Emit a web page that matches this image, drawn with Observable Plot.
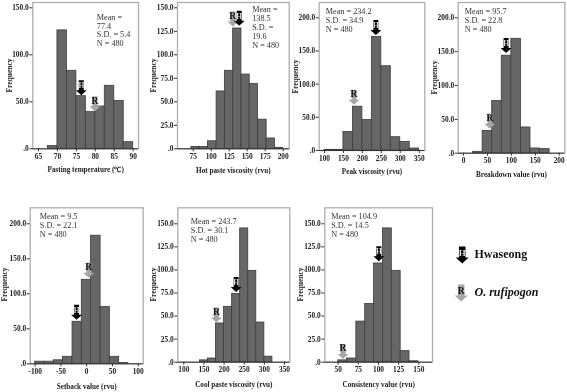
<!DOCTYPE html>
<html>
<head>
<meta charset="utf-8">
<script src="https://cdn.jsdelivr.net/npm/d3@7"></script>
<script src="https://cdn.jsdelivr.net/npm/@observablehq/plot@0.6"></script>
<style>
html,body{margin:0;padding:0;background:#fff}
#chart{position:relative;width:567px;height:392px;overflow:hidden}
#chart svg{position:absolute;background:transparent;filter:blur(0.3px)}
</style>
</head>
<body>
<div id="chart"></div>
<script>
// Values
const pastingEdges = [67.5,70,72.5,75,77.5,80,82.5,85,87.5,90];
const pastingCounts = [3,126,83,56,39,45,67,51,7];
const hotEdges = [72.5,84,95.5,107.5,119,130.5,142,153.5,165,177,188.5,200];
const hotCounts = [2,2,8,61,83,128,79,69,31,11,1];
const peakEdges = [100,125,150,175,200,225,250,275,300,325,350];
const peakCounts = [1,1,28,66,46,171,127,20,13,3];
const breakdownEdges = [20,40,60,80,100,120,140,160,180];
const breakdownCounts = [2,33,77,144,169,38,7,6];
const setbackEdges = [-100,-82,-64,-46,-27.5,-9.5,8.5,27,45,63,81];
const setbackCounts = [3,3,5,10,60,120,183,81,10,1];
const coolEdges = [140,160,180,200,220,240,260,280,300,320];
const coolCounts = [2,4,42,60,74,145,99,43,6];
const consistencyEdges = [50,61,72.5,83.5,94.5,105.5,116.5,127.5,138.5,149.5];
const consistencyCounts = [2,4,44,63,107,145,99,12,1];

const panelTitles = ["Pasting temperature (℃)","Hot paste viscosity (rvu)","Peak viscosity (rvu)","Breakdown value (rvu)","Setback value (rvu)","Cool paste viscosity (rvu)","Consistency value (rvu)"];
const panelStats = [
  ["Mean =","77.4","S.D. = 5.4","N = 480"],
  ["Mean =","138.5","S.D. =","19.6","N = 480"],
  ["Mean = 234.2","S.D. = 34.9","N = 480"],
  ["Mean = 95.7","S.D. = 22.8","N = 480"],
  ["Mean = 9.5","S.D. = 22.1","N = 480"],
  ["Mean = 243.7","S.D. = 30.1","N = 480"],
  ["Mean = 104.9","S.D. = 14.5","N = 480"]
];
const xTicks = [
  [65,70,75,80,85,90],
  [75,100,125,150,175,200],
  [100,150,200,250,300,350],
  [0,50,100,150,200],
  [-100,-50,0,50,100],
  [100,150,200,250,300,350],
  [50,75,100,125,150]
];
const yTicks = [
  [0,50,100,150],
  [0,25,50,75,100,125,150],
  [0,50,100,150,200],
  [0,50,100,150,200],
  [0,50,100,150,200],
  [0,25,50,75,100,125,150],
  [0,25,50,75,100,125,150]
];
// Parent arrow tips [x, frequency]
const hwaseongTips = [[76.3,57],[138.9,131],[235.6,174],[89,148],[-19.7,63],[230,76],[100.4,109.5]];
const rufipogonTips = [[79.9,40],[130,130],[178,69],[55,36],[4,123],[181,43],[56,3.6]];
const legendNames = ["Hwaseong","O. rufipogon"];

const edges = [pastingEdges,hotEdges,peakEdges,breakdownEdges,setbackEdges,coolEdges,consistencyEdges];
const counts = [pastingCounts,hotCounts,peakCounts,breakdownCounts,setbackCounts,coolCounts,consistencyCounts];

// Layout on the page: frame [l,r,t,b], x calibration [px at first tick, px at last tick], y px at top tick,
// y-title x, y-title centre, x-title centre y, stats x, stats first-line y
const layouts = [
  {f:[32.3,138,2,148.3],  xp:[38,132.7],    yp:7.3,   yl:9,     yc:75,  xl:169,   sx:96.3,  sy:17.7, lh:8.7},
  {f:[177,288.7,2,148.3], xp:[192.7,282.7], yp:7.3,   yl:152.7, yc:75,  xl:170,   sx:251.7, sy:9.3,  lh:9},
  {f:[318.7,424.3,2,150], xp:[324,418.7],   yp:17.3,  yl:295,   yc:76,  xl:171.3, sx:325.3, sy:12,   lh:9},
  {f:[457.7,564.3,2,152.7],xp:[463,558.7],  yp:17.3,  yl:433.7, yc:77,  xl:174,   sx:464.3, sy:12,   lh:9},
  {f:[29.7,142.7,207.3,363.3],xp:[34.7,137.7],yp:223.3,yl:4,    yc:284, xl:386,   sx:39.3,  sy:217,  lh:9},
  {f:[177.3,289.3,207.3,361.7],xp:[183.3,284],yp:223.3,yl:152.7,yc:284, xl:384,   sx:190.3, sy:222,  lh:9},
  {f:[324.3,432,207.3,361.7],xp:[337.7,418.3],yp:223.3,yl:300,  yc:284, xl:384,   sx:330.7, sy:217,  lh:9}
];

const serif = "'Liberation Serif','Times New Roman',serif";

// Down arrow symbol with its tip on the anchored point
function arrowSymbol(headW, headH, stemW, total) {
  return {draw(c) {
    c.moveTo(0,0);
    c.lineTo(headW/2,-headH);
    c.lineTo(stemW/2,-headH);
    c.lineTo(stemW/2,-total);
    c.lineTo(-stemW/2,-total);
    c.lineTo(-stemW/2,-headH);
    c.lineTo(-headW/2,-headH);
    c.closePath();
  }};
}
const arrow = arrowSymbol(11,5,5,15);
const arrowBig = arrowSymbol(13,6,6.5,17);

const chart = document.getElementById("chart");

layouts.forEach((L,i) => {
  const [l,r,t,b] = L.f;
  const boxL = Math.max(0, Math.floor(Math.min(l-30, L.yl-8)));
  const boxT = Math.floor(t-2);
  const boxW = Math.min(567, Math.ceil(r+4)) - boxL;
  const boxH = Math.min(392, Math.ceil(L.xl+8)) - boxT;
  const bars = counts[i].map((n,k) => ({x1:edges[i][k], x2:edges[i][k+1], n}));
  const xt = xTicks[i], yt = yTicks[i];
  const H = [{x:hwaseongTips[i][0], y:hwaseongTips[i][1]}];
  const R = [{x:rufipogonTips[i][0], y:rufipogonTips[i][1]}];
  const svg = Plot.plot({
    width: boxW, height: boxH,
    marginLeft: l-boxL, marginRight: boxL+boxW-r, marginTop: t-boxT, marginBottom: boxT+boxH-b,
    style: {fontFamily: serif, fontSize: "7.4px", fontWeight: "bold", color: "#222", background: "transparent"},
    x: {domain: [xt[0], xt[xt.length-1]], range: [L.xp[0]-boxL, L.xp[1]-boxL], label: null},
    y: {domain: [0, yt[yt.length-1]], range: [b-boxT, L.yp-boxT], label: null},
    marks: [
      Plot.frame({stroke:"#aeaeae", strokeWidth:1.3}),
      Plot.rectY(bars, {x1:"x1", x2:"x2", y:"n", fill:"#666666", stroke:"#3c3c3c", strokeWidth:0.8}),
      Plot.ruleY([0], {stroke:"#333", strokeWidth:1}),
      Plot.axisX({ticks:xt, tickSize:3, tickPadding:2, label:null, stroke:"#333", tickFormat:d=>String(d)}),
      Plot.axisY({ticks:yt, tickSize:3, tickPadding:1, label:null, stroke:"#333", tickFormat:d=>d===0?".0":d.toFixed(1)}),
      Plot.text([panelTitles[i]], {frameAnchor:"bottom", dy:L.xl-b, text:d=>d, lineAnchor:"middle", fontSize:7.2}),
      Plot.text(["Frequency"], {frameAnchor:"left", dx:L.yl-l, dy:L.yc-(t+b)/2, rotate:-90, text:d=>d, textAnchor:"middle", fontSize:7.5}),
      Plot.text([panelStats[i].join("\n")], {frameAnchor:"top-left", dx:L.sx-l, dy:L.sy-t-4.5, text:d=>d, textAnchor:"start", lineAnchor:"top", lineHeight:L.lh/8.2, fontSize:8.2, fontWeight:"normal", fill:"#333"}),
      Plot.dot(R, {x:"x", y:"y", symbol:arrow, fill:"#a6a6a6", stroke:"none"}),
      Plot.text(R, {x:"x", y:"y", text:()=>"R", dy:-10.5, fontSize:9.5, fill:"#111"}),
      Plot.dot(H, {x:"x", y:"y", symbol:arrow, fill:"#000", stroke:"none"}),
      Plot.text(H, {x:"x", y:"y", text:()=>"H", dy:-9.5, fontSize:7.5, fill:"#ddd"})
    ]
  });
  svg.style.left = boxL+"px";
  svg.style.top = boxT+"px";
  chart.appendChild(svg);
});

// Legend
const legendSvg = Plot.plot({
  width: 110, height: 70,
  margin: 0,
  style: {fontFamily: serif, background:"transparent"},
  x: {axis:null, domain:[0,1], range:[0,110]},
  y: {axis:null, type:"point", padding:0, domain:legendNames, range:[25,63]},
  marks: [
    Plot.dot(legendNames.slice(0,1), {frameAnchor:"left", y:d=>d, dx:7.7, symbol:arrowBig, fill:"#000", stroke:"none"}),
    Plot.text(legendNames.slice(0,1), {frameAnchor:"left", y:d=>d, dx:7.7, dy:-10.5, text:()=>"H", textAnchor:"middle", fontSize:9, fontWeight:"bold", fill:"#ddd"}),
    Plot.dot(legendNames.slice(1), {frameAnchor:"left", y:d=>d, dx:6.7, symbol:arrowBig, fill:"#a6a6a6", stroke:"none"}),
    Plot.text(legendNames.slice(1), {frameAnchor:"left", y:d=>d, dx:6.7, dy:-10.5, text:()=>"R", textAnchor:"middle", fontSize:9.5, fontWeight:"bold", fill:"#111"}),
    Plot.text(legendNames.slice(0,1), {frameAnchor:"left", y:d=>d, dx:20, dy:-9, text:d=>d, textAnchor:"start", fontSize:12, fontWeight:"bold", fill:"#111", letterSpacing:0.2}),
    Plot.text(legendNames.slice(1), {frameAnchor:"left", y:d=>d, dx:20, dy:-9, text:d=>d, textAnchor:"start", fontSize:12, fontWeight:"bold", fontStyle:"italic", fill:"#111", letterSpacing:0.2})
  ]
});
legendSvg.style.left = "454px";
legendSvg.style.top = "238px";
chart.appendChild(legendSvg);
</script>
</body>
</html>
